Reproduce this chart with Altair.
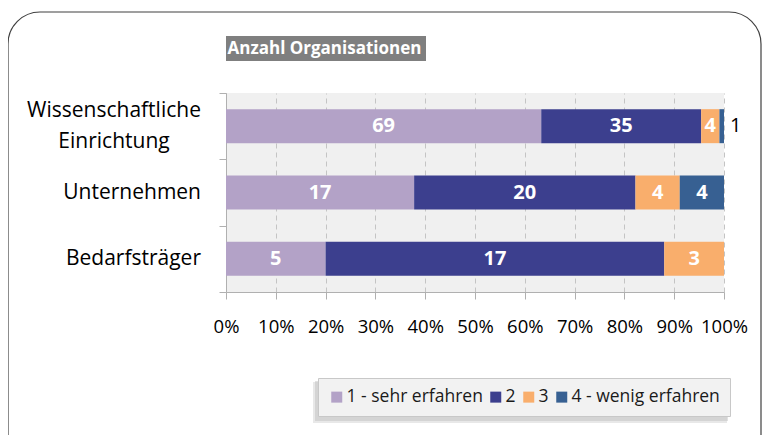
import altair as alt
import pandas as pd

categories = ["Wissenschaftliche Einrichtung", "Unternehmen", "Bedarfsträger"]
levels = ["1 - sehr erfahren", "2", "3", "4 - wenig erfahren"]
wiss = [69, 35, 4, 1]
unter = [17, 20, 4, 4]
bedarf = [5, 17, 3, 0]
colors = ["#b3a2c7", "#3c3f8e", "#f9ae6c", "#376092"]
x_ticks = [0, 0.1, 0.2, 0.3, 0.4, 0.5, 0.6, 0.7, 0.8, 0.9, 1.0]
title_text = "Anzahl Organisationen"

rows = []
for cat, vals in zip(categories, [wiss, unter, bedarf]):
    for i, (lev, v) in enumerate(zip(levels, vals)):
        rows.append({"cat": cat, "level": lev, "order": i, "count": v})
df = pd.DataFrame(rows)
cat_df = pd.DataFrame({"cat": categories})

FONT = "Open Sans"
W, H = 498, 199

y_axis = alt.Axis(
    title=None,
    labels=False,
    tickBand="extent",
    tickSize=7,
    tickColor="#b0b0b0",
    domainColor="#b0b0b0",
    grid=False,
)
y_enc = alt.Y(
    "cat:N",
    sort=categories,
    scale=alt.Scale(paddingInner=0, paddingOuter=0),
    axis=y_axis,
)

base = alt.Chart(df).transform_filter("datum.count > 0").transform_stack(
    stack="count",
    as_=["x0", "x1"],
    groupby=["cat"],
    offset="normalize",
    sort=[alt.SortField("order", order="ascending")],
).transform_calculate(mid="(datum.x0 + datum.x1) / 2", share="datum.x1 - datum.x0")

bars = base.mark_bar(height=34).encode(
    x=alt.X(
        "x0:Q",
        scale=alt.Scale(domain=[0, 1], nice=False),
        axis=alt.Axis(
            title=None,
            values=x_ticks,
            format=".0%",
            labelFont=FONT,
            labelFontSize=18.5,
            labelColor="#000000",
            labelPadding=18,
            labelOverlap=False,
            labelBound=False,
            labelFlush=False,
            tickSize=7,
            tickColor="#b0b0b0",
            domainColor="#b0b0b0",
            grid=True,
            gridColor="#c4c4c4",
            gridDash=[5, 4],
        ),
    ),
    x2="x1:Q",
    y=y_enc,
    color=alt.Color(
        "level:N",
        sort=levels,
        scale=alt.Scale(domain=levels, range=colors),
        legend=alt.Legend(
            title=None,
            orient="none",
            legendX=92,
            legendY=285,
            direction="horizontal",
            symbolType="square",
            symbolSize=121,
            symbolStrokeWidth=0,
            labelFont=FONT,
            labelFontSize=17.5,
            labelColor="#1a1a1a",
            labelOffset=1,
            columnPadding=4,
            padding=10,
            fillColor="#f2f2f2",
            strokeColor="#c8c8c8",
        ),
    ),
)

labels_in = base.transform_filter("datum.share >= 0.02").mark_text(
    font=FONT, fontSize=20, fontWeight="bold", color="white"
).encode(x="mid:Q", y=alt.Y("cat:N", sort=categories), text="count:Q")

labels_out = base.transform_filter("datum.share < 0.02").mark_text(
    font=FONT, fontSize=20, color="black", align="left", dx=6
).encode(x="x1:Q", y=alt.Y("cat:N", sort=categories), text="count:Q")

# category labels (drawn as text so the two-line label can be centred like the original)
ylab_two = alt.Chart(cat_df).transform_filter(
    "indexof(datum.cat, ' ') >= 0"
).mark_text(
    font=FONT, fontSize=21, color="black", align="center", baseline="middle",
    lineBreak=" ", lineHeight=31, dy=-15.5
).encode(x=alt.value(-112), y=alt.Y("cat:N", sort=categories), text="cat:N")

ylab_one = alt.Chart(cat_df).transform_filter(
    "indexof(datum.cat, ' ') < 0"
).mark_text(
    font=FONT, fontSize=21, color="black", align="right", baseline="middle"
).encode(x=alt.value(-25), y=alt.Y("cat:N", sort=categories), text="cat:N")

deco = pd.DataFrame({"t": [title_text]})

frame = alt.Chart(deco).mark_rect(
    cornerRadius=32, fill="white", fillOpacity=0, stroke="#404040", strokeWidth=1.2
).encode(x=alt.value(-218), x2=alt.value(535), y=alt.value(-81), y2=alt.value(400))

shadow1 = alt.Chart(deco).mark_rect(fill="#bdbdbd", opacity=0.45).encode(
    x=alt.value(89), x2=alt.value(502), y=alt.value(288), y2=alt.value(328)
)
shadow2 = alt.Chart(deco).mark_rect(fill="#bdbdbd", opacity=0.35).encode(
    x=alt.value(87), x2=alt.value(501), y=alt.value(289), y2=alt.value(330)
)

title_bg = alt.Chart(deco).mark_rect(fill="#7f7f7f").encode(
    x=alt.value(0), x2=alt.value(200), y=alt.value(-57), y2=alt.value(-32)
)
title_txt = alt.Chart(deco).mark_text(
    font=FONT, fontSize=17, fontWeight="bold", color="white", align="left", baseline="middle"
).encode(x=alt.value(1.5), y=alt.value(-44.5), text="t:N")

chart = alt.layer(
    frame, shadow2, shadow1, title_bg, title_txt, bars, labels_in, labels_out, ylab_two, ylab_one
).properties(
    width=W,
    height=H,
    autosize=alt.AutoSizeParams(type="none"),
    padding={"left": 218, "top": 85, "right": 39, "bottom": 143},
).configure_view(fill="#f0f0f0", strokeWidth=0)

chart.save("out.html", embed_options={"renderer": "svg", "actions": False})
